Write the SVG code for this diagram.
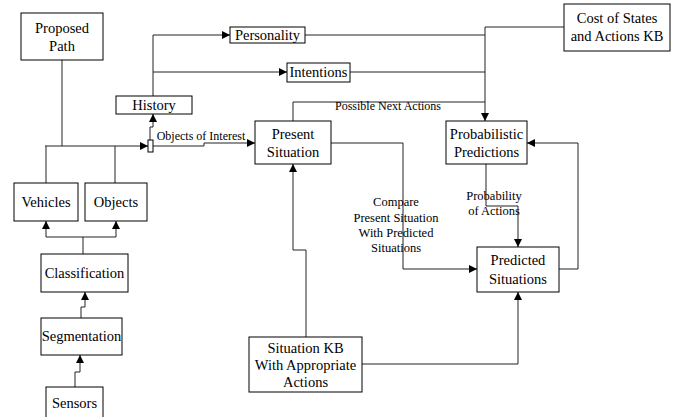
<svg xmlns="http://www.w3.org/2000/svg" width="686" height="417" viewBox="0 0 686 417">
<style>
.box{fill:#fff;stroke:#000;stroke-width:1}
.t{font-family:"Liberation Serif","Times New Roman",serif;font-size:14.5px;fill:#000;text-anchor:middle}
.l{font-family:"Liberation Serif","Times New Roman",serif;font-size:12px;fill:#000;text-anchor:middle}
.c{fill:none;stroke:#222;stroke-width:1}
.a{marker-end:url(#ah)}
</style>
<defs>
<marker id="ah" markerUnits="userSpaceOnUse" markerWidth="9" markerHeight="8" refX="8" refY="4" orient="auto">
<path d="M0,0 L8,4 L0,8 z" fill="#000"/>
</marker>
</defs>
<rect width="686" height="417" fill="#fff"/>
<g id="connectors">
<path class="c" d="M62,60 V146"/>
<path class="c a" d="M45,146 H148"/>
<path class="c" d="M46,146 V183 M115,146 V183"/>
<path class="c a" d="M150,140 V127 H153 V114"/>
<path class="c a" d="M153,96 V35 H230"/>
<path class="c a" d="M153,72 H287"/>
<path class="c" d="M305,35 H485 M350,72 H485 M293,121 V102 H485"/>
<path class="c a" d="M564,27 H485 V121"/>
<path class="c a" d="M153,146 H204 V143 H255"/>
<path class="c a" d="M331,143 H403 V269 H477"/>
<path class="c a" d="M486,164 V206 H518 V247"/>
<path class="c a" d="M559,269 H578 V143 H527"/>
<path class="c a" d="M306,337 V250 H293 V164"/>
<path class="c a" d="M362,364 H518 V292"/>
<path class="c" d="M83,254 V237 M46,237 H116"/>
<path class="c a" d="M46,237 V221"/>
<path class="c a" d="M116,237 V221"/>
<path class="c a" d="M81,318 V307 H85 V292"/>
<path class="c a" d="M75,387 V372 H80 V355"/>
<rect x="148" y="140" width="5" height="12" fill="#fff" stroke="#000"/>
<text class="l" x="201" y="140">Objects of Interest</text>
<text class="l" x="388" y="110">Possible Next Actions</text>
<g class="l" style="font-size:12.5px">
<text x="396" y="206">Compare</text>
<text x="396" y="222">Present Situation</text>
<text x="396" y="237">With Predicted</text>
<text x="396" y="252">Situations</text>
<text x="494" y="200">Probability</text>
<text x="494" y="215">of Actions</text>
</g>
</g>
<g id="proposed-path"><rect class="box" x="21" y="13" width="82" height="47"/><text class="t" x="62" y="33">Proposed</text><text class="t" x="62" y="51">Path</text></g>
<g id="history"><rect class="box" x="116" y="96" width="76" height="18"/><text class="t" x="154" y="110">History</text></g>
<g id="personality"><rect class="box" x="230" y="27" width="75" height="16"/><text class="t" x="267.5" y="40">Personality</text></g>
<g id="intentions"><rect class="box" x="287" y="63" width="63" height="19"/><text class="t" x="318.5" y="77">Intentions</text></g>
<g id="cost"><rect class="box" x="564" y="4" width="106" height="47"/><text class="t" x="617" y="23">Cost of States</text><text class="t" x="617" y="41">and Actions KB</text></g>
<g id="present-situation"><rect class="box" x="255" y="121" width="76" height="43"/><text class="t" x="293" y="139">Present</text><text class="t" x="293" y="157">Situation</text></g>
<g id="probabilistic-predictions"><rect class="box" x="446" y="121" width="81" height="43"/><text class="t" x="486.5" y="139">Probabilistic</text><text class="t" x="486.5" y="157">Predictions</text></g>
<g id="predicted-situations"><rect class="box" x="477" y="247" width="82" height="45"/><text class="t" x="518" y="265">Predicted</text><text class="t" x="518" y="284">Situations</text></g>
<g id="situation-kb"><rect class="box" x="249" y="337" width="113" height="55"/><text class="t" x="305.5" y="353">Situation KB</text><text class="t" x="305.5" y="370">With Appropriate</text><text class="t" x="305.5" y="387">Actions</text></g>
<g id="vehicles"><rect class="box" x="14" y="183" width="64" height="38"/><text class="t" x="46" y="207">Vehicles</text></g>
<g id="objects"><rect class="box" x="85" y="183" width="62" height="38"/><text class="t" x="116" y="207">Objects</text></g>
<g id="classification"><rect class="box" x="41" y="254" width="87" height="38"/><text class="t" x="84.5" y="278">Classification</text></g>
<g id="segmentation"><rect class="box" x="41" y="318" width="81" height="37"/><text class="t" x="81.5" y="341">Segmentation</text></g>
<g id="sensors"><rect class="box" x="46" y="387" width="57" height="32"/><text class="t" x="74.5" y="408">Sensors</text></g>
</svg>
